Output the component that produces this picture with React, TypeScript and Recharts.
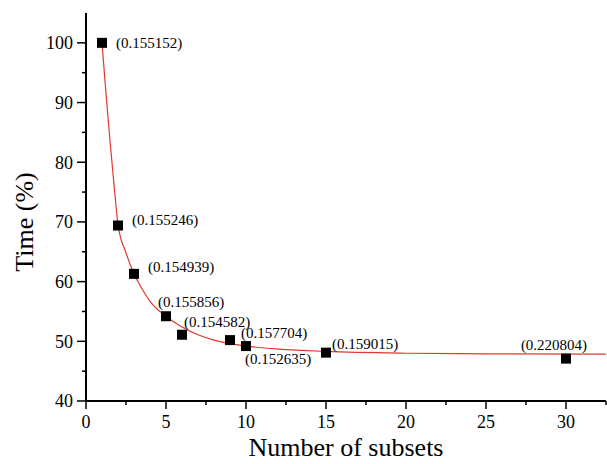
import React from "react";
import { ComposedChart, Line, Scatter, XAxis, YAxis } from "recharts";

// Measured points (number of subsets vs time %)
const subsets = [1, 2, 3, 5, 6, 9, 10, 15, 30];
const timePct = [100, 69.4, 61.3, 54.2, 51.1, 50.2, 49.2, 48.1, 47.1];
const pointLabels = [
  "(0.155152)",
  "(0.155246)",
  "(0.154939)",
  "(0.155856)",
  "(0.154582)",
  "(0.157704)",
  "(0.152635)",
  "(0.159015)",
  "(0.220804)",
];

// Fitted curve
const curveX = [1, 1.25, 1.5, 1.75, 2, 2.5, 3, 3.5, 4, 5, 6, 7, 8, 9, 10, 12, 15, 20, 25, 32.5];
const curveY = [100, 91.5, 83.6, 76.2, 69.6, 64.8, 61.3, 58.8, 56.7, 54.2, 52.4, 51.1, 50.2, 49.6, 49.2, 48.7, 48.3, 48.0, 47.9, 47.85];

// Axis ticks
const xTicks = [0, 2.5, 5, 7.5, 10, 12.5, 15, 17.5, 20, 22.5, 25, 27.5, 30, 32.5];
const yTicks = [40, 45, 50, 55, 60, 65, 70, 75, 80, 85, 90, 95, 100];

// Label placement relative to marker centre: [dx, dy, anchor]
const labelPlacement: [number, number, string][] = [
  [14, 0, "start"],
  [14, -6, "start"],
  [14, -7, "start"],
  [-8, -14, "start"],
  [2, -13, "start"],
  [11, -7, "start"],
  [-1, 13, "start"],
  [6, -9, "start"],
  [-12, -14, "middle"],
];

const points = subsets.map((x, i) => ({ x, y: timePct[i], label: pointLabels[i] }));
const curve = curveX.map((x, i) => ({ x, y: curveY[i] }));

const FONT = '"Liberation Serif", "Times New Roman", serif';

const XTick = (props: any) => {
  const { x, y, payload } = props;
  const v = payload.value;
  const major = v % 5 === 0;
  return (
    <g>
      <line x1={x} y1={y} x2={x} y2={y + (major ? 8 : 4)} stroke="#000" strokeWidth={1.5} />
      {major && (
        <text x={x} y={y + 27} textAnchor="middle" fontSize={18} fontFamily={FONT} fill="#000">
          {v}
        </text>
      )}
    </g>
  );
};

const YTick = (props: any) => {
  const { x, y, payload } = props;
  const v = payload.value;
  const major = v % 10 === 0;
  return (
    <g>
      <line x1={x - (major ? 9 : 4)} y1={y} x2={x} y2={y} stroke="#000" strokeWidth={1.5} />
      {major && (
        <text x={x - 13} y={y} dy="0.35em" textAnchor="end" fontSize={18} fontFamily={FONT} fill="#000">
          {v}
        </text>
      )}
    </g>
  );
};

const SquareWithLabel = (props: any) => {
  const { cx, cy, payload } = props;
  if (cx == null || cy == null) return null;
  const i = subsets.indexOf(payload.x);
  const [dx, dy, anchor] = labelPlacement[i] || [12, 0, "start"];
  return (
    <g>
      <rect x={cx - 5} y={cy - 5} width={10} height={10} fill="#000" />
      <text
        x={cx + dx}
        y={cy + dy}
        dy="0.35em"
        textAnchor={anchor as any}
        fontSize={15}
        fontFamily={FONT}
        fill="#000"
      >
        {payload.label}
      </text>
    </g>
  );
};

const XLabel = (props: any) => {
  const vb = props.viewBox || { x: 86, width: 520 };
  return (
    <text x={vb.x + vb.width / 2} y={456} textAnchor="middle" fontSize={26} fontFamily={FONT} fill="#000">
      Number of subsets
    </text>
  );
};

const YLabel = () => (
  <text
    x={33}
    y={222}
    transform="rotate(-90, 33, 222)"
    textAnchor="middle"
    fontSize={26}
    fontFamily={FONT}
    fill="#000"
  >
    Time (%)
  </text>
);

export default function App() {
  return (
    <div style={{ position: "absolute", left: 0, top: 0, width: 607, height: 464, background: "#fff" }}>
      <ComposedChart width={607} height={464} margin={{ top: 13, right: 1, left: 0, bottom: 0 }}>
        <XAxis
          type="number"
          dataKey="x"
          domain={[0, 32.5]}
          ticks={xTicks}
          interval={0}
          tickSize={0}
          tickMargin={0}
          tickLine={false}
          tick={<XTick />}
          height={63}
          axisLine={{ stroke: "#000", strokeWidth: 2 }}
          allowDataOverflow
          label={{ content: (p: any) => <XLabel {...p} /> }}
        />
        <YAxis
          type="number"
          dataKey="y"
          domain={[40, 105]}
          ticks={yTicks}
          interval={0}
          tickSize={0}
          tickMargin={0}
          tickLine={false}
          tick={<YTick />}
          width={86}
          axisLine={{ stroke: "#000", strokeWidth: 2 }}
          allowDataOverflow
          label={{ content: () => <YLabel /> }}
        />
        <Line
          data={curve}
          dataKey="y"
          type="monotone"
          stroke="#e2382f"
          strokeWidth={1.2}
          dot={false}
          activeDot={false}
          isAnimationActive={false}
        />
        <Scatter data={points} dataKey="y" shape={<SquareWithLabel />} isAnimationActive={false} />
      </ComposedChart>
    </div>
  );
}
